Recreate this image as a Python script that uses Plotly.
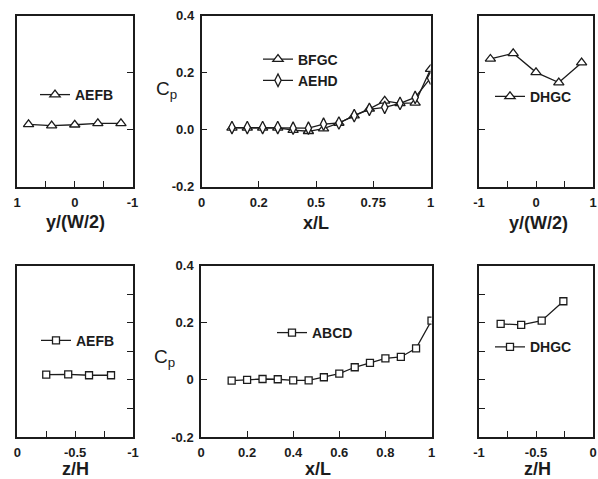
import plotly.graph_objects as go

W, H = 598, 479

# ---------------- data ----------------
yw_left = [0.8, 0.4, 0.0, -0.4, -0.8]
aefb_top = [0.018, 0.014, 0.017, 0.022, 0.022]
yw_right = [-0.8, -0.4, 0.0, 0.4, 0.8]
dhgc_top = [0.248, 0.268, 0.201, 0.165, 0.235]

xl = [0.133, 0.2, 0.267, 0.333, 0.4, 0.467, 0.533, 0.6, 0.667, 0.733, 0.8, 0.867, 0.933, 1.0]
bfgc = [0.006, 0.006, 0.006, 0.006, -0.002, -0.006, 0.003, 0.023, 0.049, 0.073, 0.101, 0.092, 0.094, 0.212]
aehd = [0.007, 0.007, 0.007, 0.007, 0.005, 0.005, 0.019, 0.023, 0.049, 0.071, 0.078, 0.092, 0.113, 0.181]
abcd = [-0.003, 0.0, 0.003, 0.002, -0.002, -0.002, 0.009, 0.022, 0.044, 0.059, 0.075, 0.080, 0.110, 0.207]

zh_left = [-0.25, -0.44, -0.62, -0.81]
aefb_bot = [0.018, 0.019, 0.016, 0.016]
zh_right = [-0.81, -0.63, -0.45, -0.26]
dhgc_bot = [0.196, 0.192, 0.207, 0.275]

top_mid_xticks = [0, 0.25, 0.5, 0.75, 1]
top_mid_xtext = ["0", "0.2", "0.5", "0.75", "1"]
bot_mid_xticks = [0, 0.2, 0.4, 0.6, 0.8, 1]
bot_mid_xtext = ["0", "0.2", "0.4", "0.6", "0.8", "1"]
cp_ticks = [-0.2, 0.0, 0.2, 0.4]
top_cp_text = ["-0.2", "0.0", "0.2", "0.4"]
bot_cp_text = ["-0.2", "0", "0.2", "0.4"]

INK = "#1c1c1c"
FONT = "Liberation Sans, Arial, sans-serif"


def dx(a, b):
    return [a / W, b / W]


def dy(top, bottom):
    return [1 - bottom / H, 1 - top / H]


def px(p):
    return p / W


def py(p):
    return 1 - p / H


fig = go.Figure()

line = dict(color=INK, width=1.3)


def add(x, y, name, symbol, size, xa, ya, legend):
    fig.add_trace(go.Scatter(
        x=x, y=y, name=name, mode="lines+markers", xaxis=xa, yaxis=ya,
        line=line, legend=legend,
        marker=dict(symbol=symbol, size=size, color="white",
                    line=dict(color=INK, width=1.3)),
    ))


add(yw_left, aefb_top, "AEFB", "triangle-up", 9, "x", "y", "legend")
add(xl, bfgc, "BFGC", "triangle-up", 9, "x2", "y2", "legend2")
add(xl, aehd, "AEHD", "diamond-tall", 9, "x2", "y2", "legend2")
add(yw_right, dhgc_top, "DHGC", "triangle-up", 9, "x3", "y3", "legend3")
add(zh_left, aefb_bot, "AEFB", "square", 7, "x4", "y4", "legend4")
add(xl, abcd, "ABCD", "square", 7, "x5", "y5", "legend5")
add(zh_right, dhgc_bot, "DHGC", "square", 7, "x6", "y6", "legend6")

base = dict(showline=True, mirror=True, linecolor=INK, linewidth=1.5,
            showgrid=False, zeroline=False, ticks="inside", ticklen=6,
            tickcolor=INK, tickwidth=1.3, ticklabelstandoff=3,
            tickfont=dict(family=FONT, size=13, color=INK, weight="bold"))


def minor(vals):
    return dict(tickvals=vals, ticks="inside", ticklen=6, tickcolor=INK,
                tickwidth=1.3, showgrid=False)


top_dom = dy(15.7, 186.5)
bot_dom = dy(265.5, 437)

layout = {}
layout["xaxis"] = dict(base, domain=dx(17, 132.5), range=[1, -1], anchor="y",
                       tickvals=[1, 0, -1], ticktext=["1", "0", "-1"],
                       minor=minor([0.5, -0.5]))
layout["yaxis"] = dict(base, domain=top_dom, range=[-0.2, 0.4], anchor="x", side="right",
                       tickvals=[0, 0.2], showticklabels=False)
layout["xaxis2"] = dict(base, domain=dx(201.5, 430.5), range=[0, 1.0], anchor="y2",
                        tickvals=top_mid_xticks, ticktext=top_mid_xtext)
layout["yaxis2"] = dict(base, domain=top_dom, range=[-0.2, 0.4], anchor="x2",
                        tickvals=cp_ticks, ticktext=top_cp_text)
layout["xaxis3"] = dict(base, domain=dx(479, 593), range=[-1, 1], anchor="y3",
                        tickvals=[-1, 0, 1], ticktext=["-1", "0", "1"],
                        minor=minor([-0.5, 0.5]))
layout["yaxis3"] = dict(base, domain=top_dom, range=[-0.2, 0.4], anchor="x3",
                        tickvals=[0, 0.2], showticklabels=False)
layout["xaxis4"] = dict(base, domain=dx(17.3, 133), range=[0, -1], anchor="y4",
                        tickvals=[0, -0.5, -1], ticktext=["0", "-0.5", "-1"],
                        minor=minor([-0.25, -0.75]))
layout["yaxis4"] = dict(base, domain=bot_dom, range=[-0.2, 0.4], anchor="x4", side="right",
                        tickvals=[-0.1, 0, 0.1, 0.2, 0.3], showticklabels=False)
layout["xaxis5"] = dict(base, domain=dx(201, 431.5), range=[0, 1.0], anchor="y5",
                        tickvals=bot_mid_xticks, ticktext=bot_mid_xtext)
layout["yaxis5"] = dict(base, domain=bot_dom, range=[-0.2, 0.4], anchor="x5",
                        tickvals=cp_ticks, ticktext=bot_cp_text)
layout["xaxis6"] = dict(base, domain=dx(479, 593), range=[-1, 0], anchor="y6",
                        tickvals=[-1, -0.5, 0], ticktext=["-1", "-0.5", "0"],
                        minor=minor([-0.75, -0.25]))
layout["yaxis6"] = dict(base, domain=bot_dom, range=[-0.2, 0.4], anchor="x6",
                        tickvals=[-0.1, 0, 0.1, 0.2, 0.3], showticklabels=False)

leg_font = dict(family=FONT, size=14, color=INK, weight="bold")


def leg(xp, yp):
    return dict(x=px(xp), y=py(yp), xanchor="left", yanchor="middle",
                bgcolor="rgba(0,0,0,0)", font=leg_font, borderwidth=0,
                itemwidth=30, tracegroupgap=0)


layout["legend"] = leg(35, 95)
layout["legend2"] = leg(258, 70)
layout["legend3"] = leg(490, 96.7)
layout["legend4"] = leg(36, 340.7)
layout["legend5"] = leg(272, 333)
layout["legend6"] = leg(490, 347.3)

fig.update_layout(**layout)

title_font = dict(family=FONT, size=18, color=INK, weight="bold")
ann = []
for txt, xc, yc in [("y/(W/2)", 75, 222), ("x/L", 316, 223), ("y/(W/2)", 538, 223),
                    ("z/H", 75, 469), ("x/L", 318, 469), ("z/H", 537, 469)]:
    ann.append(dict(text=txt, x=px(xc), y=py(yc), xref="paper", yref="paper",
                    showarrow=False, xanchor="center", yanchor="middle", font=title_font))
for xc, yc in [(166, 90), (164, 358)]:
    ann.append(dict(text="C<sub>p</sub>", x=px(xc), y=py(yc), xref="paper", yref="paper",
                    showarrow=False, xanchor="center", yanchor="middle",
                    font=dict(family=FONT, size=19, color=INK)))

fig.update_layout(annotations=ann, width=W, height=H, showlegend=True,
                  margin=dict(l=0, r=0, t=0, b=0, autoexpand=False),
                  paper_bgcolor="white", plot_bgcolor="white")

fix_margin = "}); document.body.style.margin='0px'; document.body.style.overflow='hidden'; (function(){"

fig.write_html("out.html", config={"displayModeBar": False}, post_script=fix_margin)
